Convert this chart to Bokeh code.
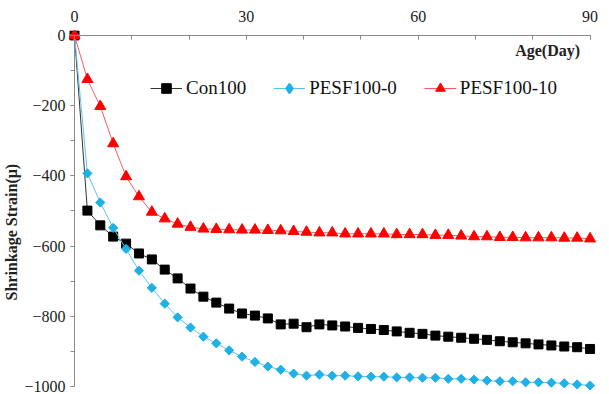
from bokeh.plotting import figure
from bokeh.models import Range1d, LinearAxis, FixedTicker, Legend, LegendItem, Label, Title, ColumnDataSource
from bokeh.embed import file_html
from bokeh.resources import INLINE
import math

# ---- data ----
ages = [0, 2.25, 4.5, 6.75, 9, 11.25, 13.5, 15.75, 18, 20.25, 22.5, 24.75, 27, 29.25,
        31.5, 33.75, 36, 38.25, 40.5, 42.75, 45, 47.25, 49.5, 51.75, 54, 56.25, 58.5,
        60.75, 63, 65.25, 67.5, 69.75, 72, 74.25, 76.5, 78.75, 81, 83.25, 85.5, 87.75, 90]

con100 = [0, -499, -541, -573, -593, -621, -638, -667, -692, -721, -744, -761, -778, -792,
          -798, -806, -823, -821, -831, -823, -826, -829, -833, -836, -839, -843, -847,
          -850, -855, -858, -861, -864, -867, -871, -874, -877, -880, -883, -886, -888, -893]

pesf100_0 = [0, -393, -476, -548, -608, -670, -719, -764, -803, -832, -858, -877, -897, -915,
             -930, -943, -952, -963, -969, -966, -969, -969, -971, -972, -972, -974, -974,
             -975, -975, -978, -978, -980, -983, -985, -985, -988, -988, -989, -991, -994, -997]

pesf100_10 = [0, -125, -202, -308, -402, -459, -503, -522, -537, -546, -551, -552, -553, -554,
              -554, -555, -556, -558, -560, -562, -562, -565, -565, -565, -565, -567, -567,
              -567, -569, -569, -571, -573, -573, -575, -575, -576, -576, -576, -577, -577, -579]

series_names = ["Con100", "PESF100-0", "PESF100-10"]

x_major_ticks = [0, 30, 60, 90]
x_minor_ticks = [0, 10, 20, 30, 40, 50, 60, 70, 80, 90]
y_major_ticks = [0, -200, -400, -600, -800, -1000]
y_minor_ticks = [0, -100, -200, -300, -400, -500, -600, -700, -800, -900, -1000]

x_title = "Age(Day)"
y_title = "Shrinkage Strain(\u03bc)"

FONT = "Liberation Serif"
AXIS_COLOR = "#8a8a8a"
TEXT_COLOR = "#222222"

p = figure(width=609, height=394,
           x_range=Range1d(-1.05, 92), y_range=Range1d(-1017, 14),
           output_backend="svg", toolbar_location=None,
           x_axis_location=None, y_axis_location=None,
           min_border_left=66, min_border_right=8, min_border_top=30, min_border_bottom=2,
           background_fill_color="white", border_fill_color="white")
p.outline_line_color = None
p.grid.visible = False

# --- axis lines and tick marks, crossing at the data origin ---
xline = LinearAxis(fixed_location=0, bounds=(0, 90),
                   ticker=FixedTicker(ticks=x_major_ticks, minor_ticks=x_minor_ticks))
xline.axis_line_color = AXIS_COLOR
xline.major_tick_line_color = AXIS_COLOR
xline.minor_tick_line_color = AXIS_COLOR
xline.major_tick_in = 4
xline.major_tick_out = 0
xline.minor_tick_in = 4
xline.minor_tick_out = 0
xline.major_label_text_color = None
p.add_layout(xline, "above")

yline = LinearAxis(fixed_location=0, bounds=(-1000, 0),
                   ticker=FixedTicker(ticks=y_major_ticks, minor_ticks=y_minor_ticks))
yline.axis_line_color = AXIS_COLOR
yline.major_tick_line_color = AXIS_COLOR
yline.minor_tick_line_color = AXIS_COLOR
yline.major_tick_in = 0
yline.major_tick_out = 4
yline.minor_tick_in = 0
yline.minor_tick_out = 4
yline.major_label_text_color = None
p.add_layout(yline, "left")

# --- tick labels in the side panels ---
xlab = LinearAxis(ticker=FixedTicker(ticks=x_major_ticks))
xlab.axis_line_color = None
xlab.major_tick_line_color = None
xlab.minor_tick_line_color = None
xlab.major_tick_in = 0
xlab.major_tick_out = 0
xlab.major_label_standoff = 9
xlab.major_label_text_font = FONT
xlab.major_label_text_font_size = "16px"
xlab.major_label_text_color = TEXT_COLOR
p.add_layout(xlab, "above")

ylab = LinearAxis(ticker=FixedTicker(ticks=y_major_ticks))
ylab.axis_line_color = None
ylab.major_tick_line_color = None
ylab.minor_tick_line_color = None
ylab.major_tick_in = 0
ylab.major_tick_out = 0
ylab.major_label_standoff = 3
ylab.major_label_text_font = FONT
ylab.major_label_text_font_size = "16px"
ylab.major_label_text_color = TEXT_COLOR
p.add_layout(ylab, "left")

# y title as a side-panel title (rotated automatically)
p.add_layout(Title(text=y_title, align="left", offset=92, vertical_align="middle",
                   standoff=2, text_font=FONT, text_font_size="16px",
                   text_font_style="bold", text_color=TEXT_COLOR), "left")

src = ColumnDataSource(dict(age=ages, con=con100, p0=pesf100_0, p10=pesf100_10))

l1 = p.line("age", "con", source=src, line_color="#333333", line_width=1)
m1 = p.scatter("age", "con", source=src, marker="square", size=9,
               fill_color="black", line_color="black")

l2 = p.line("age", "p0", source=src, line_color="#5cc2ec", line_width=1)
m2 = p.scatter("age", "p0", source=src, marker="square", angle=math.pi / 4, size=6.5,
               fill_color="#1fb0e8", line_color="#1fb0e8")
# same points as diamonds, used only for the legend swatch
m2_key = p.scatter("age", "p0", source=src, marker="diamond", size=12, visible=False,
                   fill_color="#1fb0e8", line_color="#1fb0e8", line_width=2)

l3 = p.line("age", "p10", source=src, line_color="#ff5a5a", line_width=1)
m3 = p.scatter("age", "p10", source=src, marker="triangle", size=11,
               fill_color="#ff0000", line_color="#ff0000")

legend = Legend(items=[LegendItem(label=series_names[0], renderers=[l1, m1]),
                       LegendItem(label=series_names[1], renderers=[l2, m2_key]),
                       LegendItem(label=series_names[2], renderers=[l3, m3])],
                orientation="horizontal", location=(82, 292),
                glyph_width=32, glyph_height=24, label_standoff=4, spacing=27,
                padding=0, margin=0, border_line_color=None, background_fill_alpha=0,
                label_text_font=FONT, label_text_font_size="19px",
                label_text_color="#111111")
p.add_layout(legend)

p.add_layout(Label(x=90, y=0, x_offset=-10, y_offset=-15, text=x_title,
                   text_align="right", text_baseline="middle",
                   text_font=FONT, text_font_size="16px", text_font_style="bold",
                   text_color=TEXT_COLOR))

open("out.html", "w").write(file_html(p, INLINE))
